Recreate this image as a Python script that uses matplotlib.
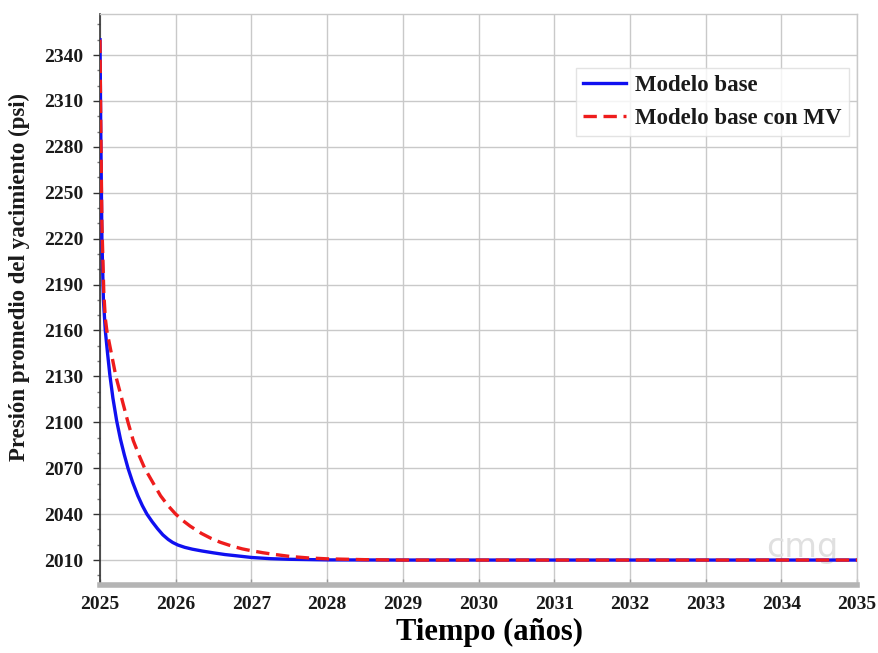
import matplotlib
matplotlib.use("Agg")
import matplotlib.pyplot as plt
from matplotlib.ticker import MultipleLocator

# Average reservoir pressure over time (decimal years)
t_base = [2025.0, 2025.01, 2025.025, 2025.045, 2025.07, 2025.10, 2025.13, 2025.17,
          2025.22, 2025.27, 2025.32, 2025.37, 2025.43, 2025.50, 2025.56, 2025.62,
          2025.69, 2025.76, 2025.83, 2025.90, 2025.96, 2026.03, 2026.12, 2026.22,
          2026.35, 2026.50, 2026.65, 2026.80, 2027.0, 2027.25, 2027.5, 2027.75,
          2028.0, 2029.0, 2030.0, 2031.0, 2032.0, 2033.0, 2034.0, 2035.0]
p_base = [2350, 2290, 2220, 2180, 2160, 2145, 2131, 2116,
          2101, 2089, 2079, 2070, 2061, 2052, 2045.5, 2040,
          2035, 2030.5, 2026.5, 2023.5, 2021.5, 2019.8, 2018.3, 2017.1,
          2015.9, 2014.7, 2013.6, 2012.8, 2011.7, 2010.9, 2010.5, 2010.3,
          2010.1, 2010, 2010, 2010, 2010, 2010, 2010, 2010]

t_mv = [2025.0, 2025.01, 2025.025, 2025.05, 2025.07, 2025.09, 2025.15, 2025.21,
        2025.29, 2025.37, 2025.44, 2025.52, 2025.59, 2025.70, 2025.80, 2025.90,
        2026.00, 2026.10, 2026.19, 2026.34, 2026.47, 2026.59, 2026.75, 2026.88,
        2027.0, 2027.15, 2027.3, 2027.52, 2027.75, 2028.0, 2028.5, 2029.0,
        2030.0, 2031.0, 2032.0, 2033.0, 2034.0, 2035.0]
p_mv = [2350, 2295, 2230, 2185, 2168, 2160, 2145, 2130,
        2115, 2100, 2088, 2078, 2070, 2060.5, 2052, 2045.5,
        2040, 2035.6, 2032.2, 2027.4, 2024.1, 2021.6, 2019.0, 2017.3,
        2016.1, 2014.8, 2013.7, 2012.3, 2011.4, 2010.8, 2010.25, 2010,
        2010, 2010, 2010, 2010, 2010, 2010]

series_labels = ["Modelo base", "Modelo base con MV"]
x_ticks = list(range(2025, 2036))
y_ticks = list(range(2010, 2341, 30))

serif = ["Liberation Serif", "DejaVu Serif"]

fig = plt.figure(figsize=(8.79, 6.53), dpi=100)
ax = fig.add_axes([100 / 879, 1 - 585 / 653, 757 / 879, 571 / 653])

ax.plot(t_base, p_base, color="#1010f0", lw=2.4, label=series_labels[0], zorder=3,
        solid_joinstyle="round")
ax.plot(t_mv, p_mv, color="#ee1c1c", lw=2.4, ls=(0, (4.0, 2.0)),
        label=series_labels[1], zorder=4)

ax.set_xlim(2025, 2035)
ax.set_ylim(1993.7, 2366.8)
ax.set_xticks(x_ticks)
ax.set_yticks(y_ticks)
ax.yaxis.set_minor_locator(MultipleLocator(10))

ax.grid(True, which="major", color="#c9c9c9", lw=1.0)
ax.set_axisbelow(True)

for side in ("top", "right"):
    ax.spines[side].set_color("#c9c9c9")
    ax.spines[side].set_linewidth(1.0)
ax.spines["left"].set_color("#333333")
ax.spines["left"].set_linewidth(1.2)
ax.spines["bottom"].set_color("#b4b4b4")
ax.spines["bottom"].set_linewidth(4)

ax.tick_params(axis="y", which="major", length=5, width=1, color="#333333", pad=7)
ax.tick_params(axis="y", which="minor", length=2, width=1, color="#777777")
ax.tick_params(axis="x", which="major", length=4, width=1, color="#999999",
               direction="in", pad=8)

for lab in ax.get_xticklabels() + ax.get_yticklabels():
    lab.set_fontfamily(serif)
    lab.set_fontweight("bold")
    lab.set_fontsize(14)
    lab.set_color("#1a1a1a")

ax.set_xlabel("Tiempo (años)", fontfamily=serif, fontweight="bold", fontsize=22,
              color="black")
ax.xaxis.set_label_coords(0.515, -0.058)
ax.set_ylabel("Presión promedio del yacimiento (psi)", fontfamily=serif,
              fontweight="bold", fontsize=16.5, color="#1a1a1a")
ax.yaxis.set_label_coords(-0.093, 0.54)

leg = ax.legend(loc="upper right", bbox_to_anchor=(0.989, 0.905),
                prop={"family": serif, "weight": "bold", "size": 16.5},
                frameon=True, fancybox=False, edgecolor="#dddddd",
                handlelength=1.9, handletextpad=0.4, borderpad=0.3,
                labelspacing=0.5, borderaxespad=0.0)
leg.get_frame().set_linewidth(1.0)
for txt in leg.get_texts():
    txt.set_color("#1a1a1a")

# faint publisher mark in the lower-right corner
ax.text(0.928, 0.066, "cmg", transform=ax.transAxes, ha="center", va="center",
        fontsize=24, color="#e0e0e0", fontfamily="DejaVu Sans", zorder=1)

fig.savefig("out.png", dpi=100, facecolor="white")
